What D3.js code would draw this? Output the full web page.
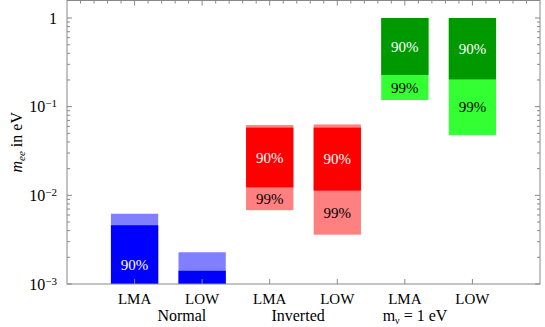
<!DOCTYPE html>
<meta charset="utf-8">
<style>
body { margin: 0; background: #fff; }
text { font-family: "Liberation Serif", "DejaVu Serif", serif; }
.frame { fill: none; stroke: #888; stroke-width: 1; }
.tick { stroke: #888; stroke-width: 1; }
</style>
<svg width="545" height="327"></svg>
<script src="https://d3js.org/d3.v7.min.js"></script>
<script>

// data
var categories = ["LMA", "LOW", "LMA", "LOW", "LMA", "LOW"];
var groups = ["Normal", "Inverted", "mν = 1 eV"];
var groupPos = [1.70, 3.42, 5.15];

// 90% C.L. band (dark) and 99% C.L. band (light), in eV
var low90  = [5.8e-4, 5e-4,   0.0123, 0.0113, 0.228, 0.203];
var high90 = [4.6e-3, 1.41e-3, 0.058, 0.058, 1.0,   1.0];
var low99  = [5e-4,   5e-4,   6.8e-3, 3.6e-3, 0.119, 0.048];
var high99 = [6.2e-3, 2.28e-3, 0.062, 0.063, 1.0,   1.0];
var show90 = [true, false, true, true, true, true];
var show99 = [false, false, true, true, true, true];

var darkColors  = ["#0000ff", "#0000ff", "#ff0000", "#ff0000", "#009a00", "#009a00"];
var lightColors = ["#8080ff", "#8080ff", "#ff8080", "#ff8080", "#33ff33", "#33ff33"];

var yTicks = [1e-3, 1e-2, 1e-1, 1];
var yTickExp = ["−3", "−2", "−1", null];

var svg = d3.select("svg"),
    pLeft = 67, pRight = 540, pTop = 0.5, pBottom = 284;

var x = d3.scaleLinear().domain([0, 7]).range([pLeft, pRight]);
var y = d3.scaleLog().domain([1e-3, 1]).range([pBottom, 18]);
var barW = x(0.7) - x(0);

svg.append("clipPath").attr("id", "clip")
  .append("rect")
    .attr("x", pLeft).attr("y", pTop)
    .attr("width", pRight - pLeft).attr("height", pBottom - pTop);

var bars = svg.append("g").attr("clip-path", "url(#clip)");

categories.forEach(function(c, i) {
  var cx = x(i + 1);
  bars.append("rect")
      .attr("x", cx - barW / 2)
      .attr("y", y(high99[i]))
      .attr("width", barW)
      .attr("height", y(low99[i]) - y(high99[i]))
      .attr("fill", lightColors[i]);
  bars.append("rect")
      .attr("x", cx - barW / 2)
      .attr("y", y(high90[i]))
      .attr("width", barW)
      .attr("height", y(low90[i]) - y(high90[i]))
      .attr("fill", darkColors[i]);
  if (show90[i]) {
    bars.append("text")
        .attr("x", cx)
        .attr("y", y(Math.sqrt(low90[i] * high90[i])))
        .attr("dy", "0.35em")
        .attr("text-anchor", "middle")
        .attr("font-size", 15)
        .attr("fill", "#fff")
        .text("90%");
  }
  if (show99[i]) {
    bars.append("text")
        .attr("x", cx)
        .attr("y", y(Math.sqrt(low99[i] * low90[i])))
        .attr("dy", "0.35em")
        .attr("text-anchor", "middle")
        .attr("font-size", 15)
        .attr("fill", "#000")
        .text("99%");
  }
});

// frame
svg.append("rect").attr("class", "frame")
    .attr("x", pLeft).attr("y", pTop)
    .attr("width", pRight - pLeft).attr("height", pBottom - pTop);

// log ticks, left and right (inside)
var ticks = svg.append("g");
var logTicks = [];
for (var e = -3; e <= 0; e++) {
  for (var m = 1; m <= 9; m++) {
    var v = m * Math.pow(10, e);
    if (y(v) >= pTop) logTicks.push({v: v, major: m === 1});
  }
}
logTicks.forEach(function(t) {
  var len = t.major ? 5 : 3;
  ticks.append("line").attr("class", "tick")
      .attr("x1", pLeft).attr("x2", pLeft + len)
      .attr("y1", y(t.v)).attr("y2", y(t.v));
  ticks.append("line").attr("class", "tick")
      .attr("x1", pRight).attr("x2", pRight - len)
      .attr("y1", y(t.v)).attr("y2", y(t.v));
});

// top ticks every 0.2, bottom ticks at categories
d3.range(1, 35).forEach(function(k) {
  var major = k % 5 === 0;
  ticks.append("line").attr("class", "tick")
      .attr("x1", x(k / 5)).attr("x2", x(k / 5))
      .attr("y1", pTop).attr("y2", pTop + (major ? 5 : 3));
});
categories.forEach(function(c, i) {
  ticks.append("line").attr("class", "tick")
      .attr("x1", x(i + 1)).attr("x2", x(i + 1))
      .attr("y1", pBottom).attr("y2", pBottom - 5);
});

// y tick labels
yTicks.forEach(function(v, i) {
  var t = svg.append("text")
      .attr("x", 57)
      .attr("y", y(v))
      .attr("dy", "0.35em")
      .attr("text-anchor", "end")
      .attr("font-size", 16);
  if (yTickExp[i]) {
    t.append("tspan").text("10");
    t.append("tspan").attr("dy", "-0.45em").attr("font-size", 11).text(yTickExp[i]);
  } else {
    t.text("1");
  }
});

// y axis title
var yt = svg.append("text")
    .attr("transform", "translate(22," + ((pTop + pBottom) / 2) + ") rotate(-90)")
    .attr("text-anchor", "middle")
    .attr("font-size", 16);
yt.append("tspan").attr("font-style", "italic").text("m");
yt.append("tspan").attr("font-style", "italic").attr("font-size", 11).attr("dy", "0.3em").text("ee");
yt.append("tspan").attr("dy", "-0.2em").text(" in eV");

// category labels
categories.forEach(function(c, i) {
  svg.append("text")
      .attr("x", x(i + 1))
      .attr("y", 304)
      .attr("text-anchor", "middle")
      .attr("font-size", 15)
      .text(c);
});

// group labels
groups.forEach(function(g, i) {
  var t = svg.append("text")
      .attr("x", x(groupPos[i]))
      .attr("y", 321)
      .attr("text-anchor", "middle")
      .attr("font-size", 16);
  if (g.indexOf("ν") > 0) {
    t.append("tspan").text("m");
    t.append("tspan").attr("font-size", 10).attr("dy", "0.3em").text("ν");
    t.append("tspan").attr("dy", "-0.2em").text(" = 1 eV");
  } else {
    t.text(g);
  }
});

</script>
